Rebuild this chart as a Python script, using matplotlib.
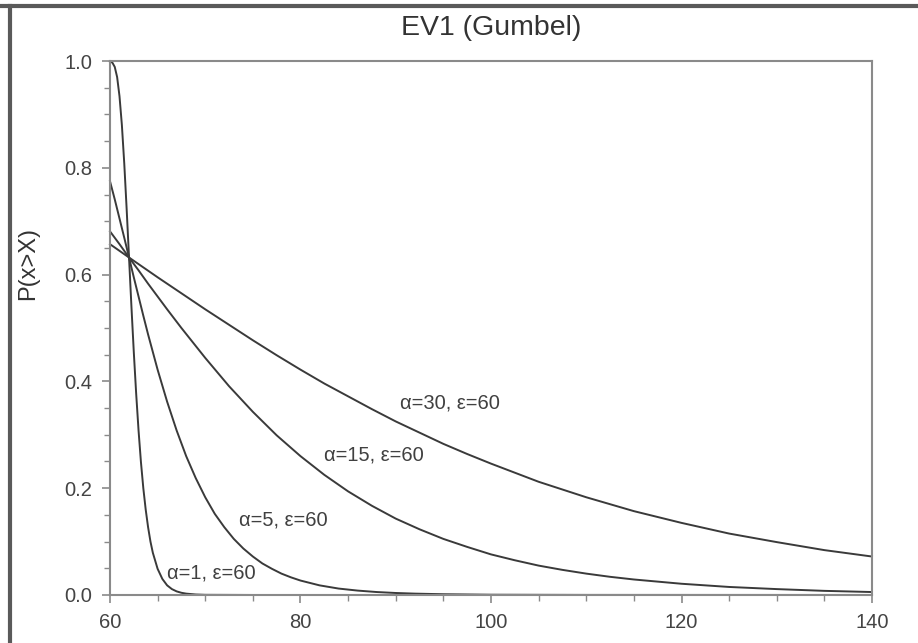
import matplotlib
matplotlib.use('Agg')
import matplotlib.pyplot as plt
from matplotlib.lines import Line2D
from matplotlib.ticker import MultipleLocator, FormatStrFormatter

# exceedance probability P(x>X)
x_a1 = [60, 60.25, 60.5, 60.75, 61, 61.25, 61.5, 61.75, 62, 62.25, 62.5, 62.75,
        63, 63.25, 63.5, 63.75, 64, 64.25, 64.5, 65, 65.5, 66, 66.5, 67, 67.5,
        68, 69, 70, 75, 140]
p_a1 = [0.999, 0.997, 0.989, 0.970, 0.934, 0.880, 0.808, 0.723, 0.632, 0.541,
        0.455, 0.377, 0.308, 0.249, 0.200, 0.160, 0.127, 0.100, 0.079, 0.049,
        0.030, 0.018, 0.011, 0.0067, 0.0041, 0.0025, 0.0009, 0.0003, 0.0, 0.0]

x_a5 = [60, 60.5, 61, 61.5, 62, 62.5, 63, 63.5, 64, 65, 66, 67, 68, 69, 70, 71,
        72, 73, 74, 75, 76, 77, 78, 79, 80, 82, 84, 86, 88, 90, 92, 95, 100,
        110, 140]
p_a5 = [0.775, 0.741, 0.705, 0.669, 0.632, 0.595, 0.559, 0.523, 0.488, 0.422,
        0.362, 0.308, 0.260, 0.219, 0.183, 0.152, 0.127, 0.105, 0.087, 0.072,
        0.059, 0.049, 0.040, 0.033, 0.027, 0.018, 0.012, 0.0082, 0.0055,
        0.0037, 0.0025, 0.0014, 0.0005, 0.0001, 0.0]

x_a15 = [60, 61, 62, 63, 64, 65, 66, 67.5, 70, 72.5, 75, 77.5, 80, 82.5, 85,
         87.5, 90, 92.5, 95, 97.5, 100, 102.5, 105, 107.5, 110, 112.5, 115,
         120, 125, 130, 135, 140]
p_a15 = [0.681, 0.657, 0.632, 0.608, 0.583, 0.559, 0.535, 0.500, 0.444, 0.391,
         0.343, 0.299, 0.260, 0.225, 0.194, 0.167, 0.143, 0.123, 0.105, 0.090,
         0.076, 0.065, 0.055, 0.047, 0.040, 0.034, 0.029, 0.021, 0.015, 0.011,
         0.0077, 0.0055]

x_a30 = [60, 62, 65, 67.5, 70, 72.5, 75, 77.5, 80, 82.5, 85, 87.5, 90, 92.5,
         95, 97.5, 100, 105, 110, 115, 120, 125, 130, 135, 140]
p_a30 = [0.657, 0.632, 0.595, 0.565, 0.535, 0.506, 0.477, 0.449, 0.422, 0.396,
         0.372, 0.348, 0.325, 0.304, 0.283, 0.264, 0.246, 0.212, 0.183, 0.157,
         0.135, 0.115, 0.099, 0.084, 0.072]

labels = ['\u03b1=1, \u03b5=60', '\u03b1=5, \u03b5=60',
          '\u03b1=15, \u03b5=60', '\u03b1=30, \u03b5=60']
label_x = [70.6, 78.2, 87.7, 95.7]
label_y = [0.041, 0.14, 0.262, 0.36]

plt.rcParams['font.family'] = ['Liberation Sans', 'DejaVu Sans']

fig = plt.figure(figsize=(9.18, 6.43), dpi=100)
ax = fig.add_axes([0.1198, 0.0747, 0.8301, 0.8304])

line_c = '#3a3a3a'
for xs, ps in [(x_a1, p_a1), (x_a5, p_a5), (x_a15, p_a15), (x_a30, p_a30)]:
    ax.plot(xs, ps, color=line_c, linewidth=1.4, clip_on=False,
            solid_joinstyle='round')

for t, lx, ly in zip(labels, label_x, label_y):
    ax.text(lx, ly, t, ha='center', va='center', fontsize=14.5, color='#404040')

ax.set_xlim(60, 140)
ax.set_ylim(0, 1.0)
ax.xaxis.set_major_locator(MultipleLocator(20))
ax.xaxis.set_minor_locator(MultipleLocator(5))
ax.yaxis.set_major_locator(MultipleLocator(0.2))
ax.yaxis.set_minor_locator(MultipleLocator(0.05))
ax.yaxis.set_major_formatter(FormatStrFormatter('%.1f'))

for s in ax.spines.values():
    s.set_color('#8a8a8a')
    s.set_linewidth(1.5)
ax.tick_params(which='both', direction='out', colors='#8a8a8a',
               labelcolor='#444444', labelsize=14.5, top=False, right=False)
ax.tick_params(which='major', length=6, width=1.2, pad=7)
ax.tick_params(which='minor', length=4, width=1.0)

ax.set_title('EV1 (Gumbel)', fontsize=20.5, color='#333333', pad=19)
ax.set_ylabel('P(x>X)', fontsize=17, color='#333333')
ax.yaxis.set_label_coords(-0.093, 0.62)

# outer frame on the top and left edges
fig.add_artist(Line2D([0, 1], [0.9905, 0.9905], transform=fig.transFigure,
                      color='#5a5a5a', linewidth=3))
fig.add_artist(Line2D([0.0109, 0.0109], [0, 0.9905], transform=fig.transFigure,
                      color='#5a5a5a', linewidth=3))

fig.savefig('out.png', dpi=100)
